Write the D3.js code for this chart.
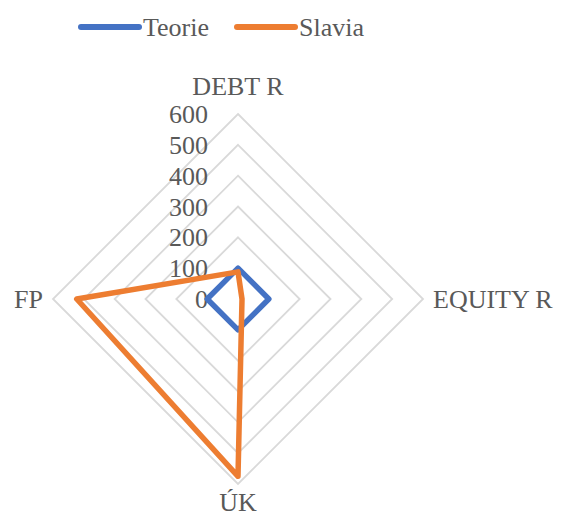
<!DOCTYPE html>
<html><head><meta charset="utf-8">
<script src="https://cdn.jsdelivr.net/npm/d3@7"></script>
<style>body{margin:0;background:#fff}svg{display:block}</style>
</head><body>
<svg id="c" width="568" height="518"></svg>
<script>
const categories = ["DEBT R", "EQUITY R", "ÚK", "FP"];
const teorie = [100, 100, 100, 100];
const slavia = [88, 13, 575, 523];
const ticks = [0, 100, 200, 300, 400, 500, 600];
const seriesNames = ["Teorie", "Slavia"];
const colors = ["#4472C4", "#ED7D31"];

const svg = d3.select("#c");
const cx = 238, cy = 299, R = 185;
const r = d3.scaleLinear().domain([0, 600]).range([0, R]);
const ang = d3.scalePoint().domain(categories).range([0, 2*Math.PI*3/4]);
const pt = (c, v) => { const a = ang(c) - Math.PI/2; return [cx + r(v)*Math.cos(a), cy + r(v)*Math.sin(a)]; };

const font = "'Liberation Serif','Times New Roman',serif";
const fs = 26;
// grid
ticks.slice(1).forEach(t => {
  svg.append("path").attr("d", d3.line()(categories.map(c => pt(c, t))) + "Z")
    .attr("fill", "none").attr("stroke", "#d9d9d9").attr("stroke-width", 1.8);
});
// tick labels
ticks.forEach(t => {
  svg.append("text").attr("x", cx - 30).attr("y", cy - r(t)).attr("dy", "0.35em")
    .attr("text-anchor", "end").attr("font-family", font).attr("font-size", fs)
    .attr("fill", "#595959").text(t);
});
// series
[teorie, slavia].forEach((vals, i) => {
  svg.append("path").attr("d", d3.line()(categories.map((c, k) => pt(c, vals[k]))) + "Z")
    .attr("fill", "none").attr("stroke", colors[i]).attr("stroke-width", 5.5)
    .attr("stroke-linejoin", "round");
});
// category labels
const lab = [
  {anchor: "middle", dx: 0, dy: -19, base: "auto"},
  {anchor: "start", dx: 10, dy: 0, base: "central"},
  {anchor: "middle", dx: 0, dy: 27, base: "auto"},
  {anchor: "end", dx: -10, dy: 0, base: "central"}
];
categories.forEach((c, k) => {
  const p = pt(c, 600);
  svg.append("text").attr("x", p[0] + lab[k].dx).attr("y", p[1] + lab[k].dy)
    .attr("dy", lab[k].base === "central" ? "0.35em" : 0)
    .attr("text-anchor", lab[k].anchor).attr("font-family", font).attr("font-size", fs)
    .attr("fill", "#595959").text(c);
});
// legend
const lx = [81, 237];
seriesNames.forEach((s, i) => {
  svg.append("line").attr("x1", lx[i]).attr("x2", lx[i] + 58).attr("y1", 27).attr("y2", 27)
    .attr("stroke", colors[i]).attr("stroke-width", 6).attr("stroke-linecap", "round");
  svg.append("text").attr("x", lx[i] + 62).attr("y", 27).attr("dy", "0.35em")
    .attr("font-family", font).attr("font-size", fs).attr("fill", "#595959").text(s);
});
</script>
</body></html>
